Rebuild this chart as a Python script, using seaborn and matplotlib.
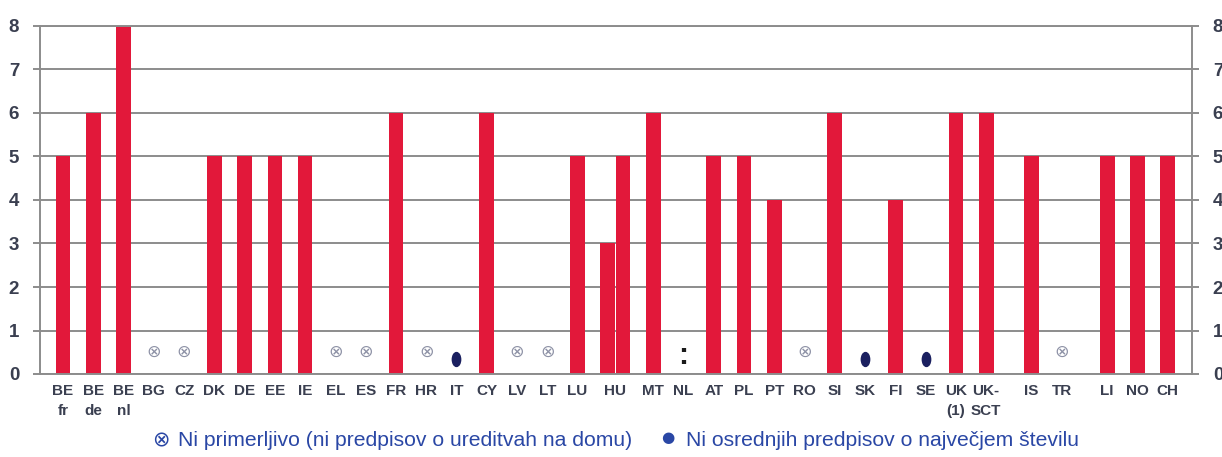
import numpy as np
import pandas as pd
import matplotlib
matplotlib.use("Agg")
import matplotlib.pyplot as plt
from matplotlib.markers import MarkerStyle
from matplotlib.transforms import Affine2D
import seaborn as sns

# podatki
drzave = ["BE\nfr", "BE\nde", "BE\nnl", "BG", "CZ", "DK", "DE", "EE", "IE", "EL", "ES",
          "FR", "HR", "IT", "CY", "LV", "LT", "LU", "HU", "MT", "NL", "AT", "PL", "PT",
          "RO", "SI", "SK", "FI", "SE", "UK\n(1)", "UK-\nSCT", "IS", "TR", "LI", "NO", "CH"]
vrednosti = [5, 6, 8, None, None, 5, 5, 5, 5, None, None,
             6, None, None, 6, None, None, 5, 3, 6, None, 5, 5, 4,
             None, 6, None, 4, None, 6, 6, 5, None, 5, 5, 5]
hu_drugi = 5  # HU ima dva stolpca
ni_primerljivo = ["BG", "CZ", "EL", "ES", "HR", "LV", "LT", "RO", "TR"]
ni_predpisov = ["IT", "SK", "SE"]
ni_podatka = ["NL"]
legenda1 = "Ni primerljivo (ni predpisov o ureditvah na domu)"
legenda2 = "Ni osrednjih predpisov o največjem številu"

# razmik med skupinami (presledki v sliki)
korak = {"MT": 1.5, "IS": 1.5, "LI": 1.5}
kljuc = [d.split("\n")[0] for d in drzave]
poz = np.cumsum([0] + [korak.get(k, 1) for k in kljuc[1:]])

rdeca = "#e2183a"
siva = "#8c8c8c"
tekst = "#3a3f50"
modra = "#2a47a5"

sns.set_style("white")
plt.rcParams["font.family"] = ["Liberation Sans", "DejaVu Sans"]

rows = []
for k, p, v in zip(kljuc, poz, vrednosti):
    if v is not None:
        rows.append({"x": p, "v": v})
    if k == "HU":
        rows.append({"x": p + 0.5, "v": hu_drugi})
df = pd.DataFrame(rows)

fig = plt.figure(figsize=(12.22, 4.57), dpi=100)
ax = fig.add_axes([40 / 1222, 1 - 374 / 457, 1152 / 1222, 348 / 457])

sns.barplot(data=df, x="x", y="v", native_scale=True, width=0.97, color=rdeca,
            saturation=1, errorbar=None, ax=ax, linewidth=0)

ax.set_xlim(poz[0] - 0.76, poz[-1] + 0.8)
ax.set_ylim(0, 8)
ax.set_yticks(range(0, 9))
ax.grid(axis="y", color=siva, linewidth=1.4)
ax.set_axisbelow(True)
for s in ax.spines.values():
    s.set_color(siva)
    s.set_linewidth(1.4)

tick_poz = [p + (0.25 if k == "HU" else 0) for k, p in zip(kljuc, poz)]
ax.set_xticks(tick_poz)
ax.set_xticklabels(drzave, fontsize=11, fontweight="bold", color=tekst, linespacing=1.55)
ax.tick_params(axis="x", length=0, pad=7)
ax.tick_params(axis="y", left=True, right=True, labelleft=True, labelright=True,
               length=5, width=1.4, color=siva, pad=10, labelsize=13.5, labelcolor=tekst)
for tk in ax.yaxis.get_major_ticks():
    tk.label1.set_fontweight("bold")
    tk.label2.set_fontweight("bold")
ax.set_xlabel("")
ax.set_ylabel("")

# oznake brez stolpcev
for k, p in zip(kljuc, poz):
    if k in ni_primerljivo:
        ax.text(p, 0.5, "⊗", ha="center", va="center", fontsize=12.5, color="#8e92a6",
                family=["DejaVu Sans"])
    elif k in ni_predpisov:
        ax.scatter([p], [0.35], s=100, color="#1b2060",
                   marker=MarkerStyle("o", transform=Affine2D().scale(0.6, 1.0)), zorder=3)
    elif k in ni_podatka:
        ax.text(p, 0.41, ":", ha="center", va="center", fontsize=22, fontweight="bold",
                color="#1a1a1a")

# legenda pod grafom
yb = 1 - 446 / 457
fig.text(152 / 1222, yb, "⊗", fontsize=15, color=modra, va="baseline", family=["DejaVu Sans"])
fig.text(178 / 1222, yb, legenda1, fontsize=15.2, color=modra, va="baseline")
fig.text(668 / 1222, 1 - 437 / 457, "●", fontsize=11, color=modra, va="center", ha="center",
         family=["DejaVu Sans"])
fig.text(686 / 1222, yb, legenda2, fontsize=15.2, color=modra, va="baseline")

fig.savefig("out.png", dpi=100, facecolor="white")
